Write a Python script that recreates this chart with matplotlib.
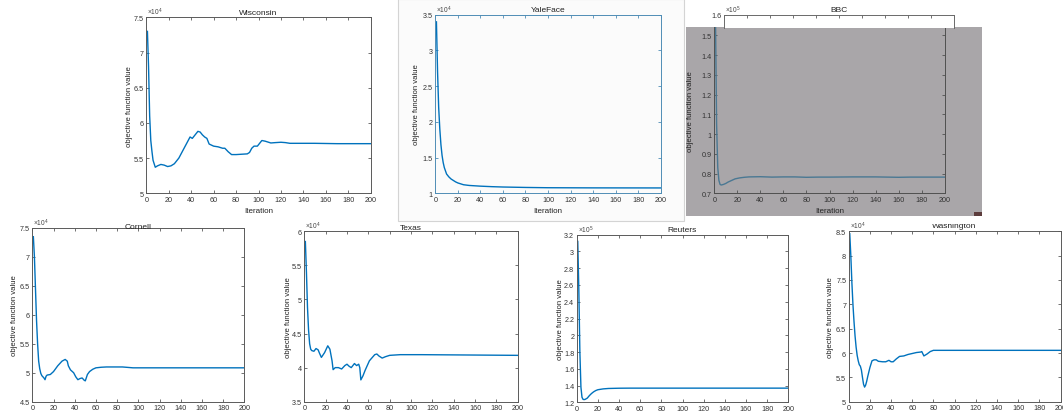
import numpy as np
import matplotlib
matplotlib.use('Agg')
import matplotlib.pyplot as plt
from matplotlib.patches import Rectangle
from matplotlib.ticker import FormatStrFormatter, MultipleLocator
from matplotlib.transforms import Bbox, TransformedBbox

#data (values in units of the axis exponent)
wis_x = [1, 2, 3, 4, 5, 6, 8, 10, 13, 16, 19, 22, 25, 29, 33, 37, 39, 41, 43, 46, 48, 50, 52, 54, 56, 60, 64, 68, 70, 73,
         76, 80, 85, 90, 92, 94, 96, 99, 101, 103, 106, 108, 111, 115, 120, 124, 128, 135, 150, 170, 200]
wis_y = [7.3, 6.8, 6.1, 5.75, 5.6, 5.47, 5.37, 5.39, 5.41, 5.40, 5.38, 5.39, 5.42, 5.5, 5.62, 5.74, 5.80, 5.78, 5.82, 5.88,
         5.87, 5.83, 5.80, 5.78, 5.70, 5.67, 5.66, 5.64, 5.64, 5.59, 5.55, 5.55, 5.555, 5.56, 5.58, 5.64, 5.67, 5.67, 5.71, 5.75,
         5.74, 5.73, 5.715, 5.72, 5.725, 5.72, 5.71, 5.71, 5.71, 5.705, 5.705]

yale_x = [1, 2, 3, 4, 5, 6, 7, 8, 10, 12, 14, 16, 18, 20, 25, 30, 40, 50, 60, 80, 100, 140, 200]
yale_y = [3.4, 2.7, 2.2, 1.9, 1.68, 1.53, 1.43, 1.36, 1.27, 1.23, 1.2, 1.18, 1.16, 1.145, 1.12, 1.11, 1.10, 1.093,
          1.088, 1.082, 1.078, 1.076, 1.075]

bbc_x = [1, 2, 3, 4, 5, 6, 8, 10, 12, 15, 18, 22, 26, 30, 40, 50, 60, 70, 80, 90, 100, 120, 140, 160, 170, 180, 200]
bbc_y = [1.6, 1.05, 0.83, 0.765, 0.745, 0.742, 0.745, 0.75, 0.757, 0.765, 0.773, 0.778, 0.781, 0.783, 0.784, 0.782,
         0.783, 0.783, 0.781, 0.782, 0.782, 0.783, 0.783, 0.781, 0.782, 0.782, 0.782]

cor_x = [1, 2, 3, 4, 5, 6, 7, 8, 9, 10, 11, 12, 13, 14, 17, 20, 24, 28, 31, 33, 34, 36, 39, 41, 43, 45, 47, 49, 50, 52,
         54, 57, 60, 65, 70, 85, 95, 120, 200]
cor_y = [7.35, 7.0, 6.45, 5.9, 5.5, 5.2, 5.07, 4.99, 4.95, 4.93, 4.91, 4.88, 4.94, 4.96, 4.97, 5.02, 5.12, 5.2, 5.23, 5.2,
         5.12, 5.05, 5.0, 4.93, 4.88, 4.9, 4.91, 4.87, 4.86, 4.97, 5.02, 5.06, 5.085, 5.095, 5.1, 5.1, 5.085, 5.085, 5.085]

tex_x = [1, 2, 3, 4, 5, 6, 7, 9, 11, 13, 14, 16, 19, 22, 24, 26, 27, 29, 32, 35, 38, 40, 42, 44, 46, 47, 49, 51, 52, 53,
         55, 57, 61, 66, 68, 70, 73, 76, 80, 90, 110, 200]
tex_y = [5.85, 5.4, 4.88, 4.55, 4.35, 4.27, 4.25, 4.24, 4.28, 4.26, 4.22, 4.15, 4.22, 4.32, 4.27, 4.1, 3.97, 4.0, 4.0, 3.98,
         4.03, 4.05, 4.02, 4.0, 4.04, 4.06, 4.03, 4.05, 4.0, 3.82, 3.88, 3.96, 4.1, 4.19, 4.2, 4.17, 4.14, 4.16, 4.18, 4.19,
         4.19, 4.18]

reu_x = [1, 2, 3, 4, 5, 6, 7, 8, 10, 12, 14, 16, 18, 20, 25, 30, 40, 50, 70, 100, 200]
reu_y = [3.12, 2.55, 1.8, 1.38, 1.26, 1.235, 1.232, 1.235, 1.25, 1.28, 1.305, 1.325, 1.34, 1.35, 1.36, 1.365, 1.368,
         1.369, 1.369, 1.369, 1.369]

was_x = [1, 2, 3, 4, 5, 6, 7, 8, 9, 10, 11, 12, 13, 14, 15, 16, 17, 18, 20, 22, 24, 26, 28, 32, 35, 38, 40, 42, 45, 48,
         52, 56, 60, 64, 68, 69, 71, 74, 77, 80, 100, 200]
was_y = [8.45, 8.0, 7.45, 7.0, 6.65, 6.35, 6.12, 5.95, 5.84, 5.76, 5.73, 5.65, 5.5, 5.36, 5.3, 5.34, 5.42, 5.52, 5.7, 5.84,
         5.86, 5.86, 5.83, 5.82, 5.82, 5.85, 5.82, 5.82, 5.88, 5.93, 5.94, 5.97, 5.99, 6.01, 6.02, 6.03, 5.94, 5.98, 6.03,
         6.055, 6.055, 6.055]

plt.rcParams['font.family'] = ['Liberation Sans', 'DejaVu Sans']
plt.rcParams['mathtext.fontset'] = 'custom'
plt.rcParams['mathtext.rm'] = 'Liberation Sans'

W, H = 1063, 414
fig = plt.figure(figsize=(W / 100, H / 100), dpi=100)
BBC_GRAY = '#a9a6a9'


def rect(l, t, r, b):
    #pixel box (from top left) -> figure fraction
    return [l / W, 1 - b / H, (r - l) / W, (b - t) / H]


#clip for the bottom row titles, which are cut by the collage
bottom_clip = TransformedBbox(Bbox([[0, 0], [1, 1 - 225 / H]]), fig.transFigure)


def panel(box, xs, ys, ylim, ystep, title, power, tpad, ylab_x, xlab=False,
          face='white', spine='#5a5a5a', line='#0072bd', clip=False):
    l, t, r, b = box
    ax = fig.add_axes(rect(l, t, r, b), facecolor=face)
    ax.plot(xs, ys, color=line, lw=1.0)
    ax.set_xlim(0, 200)
    ax.set_ylim(*ylim)
    ax.xaxis.set_major_locator(MultipleLocator(20))
    ax.yaxis.set_major_locator(MultipleLocator(ystep))
    ax.yaxis.set_major_formatter(FormatStrFormatter('%g'))
    ax.tick_params(direction='in', top=True, right=True, length=2.2, width=0.6,
                   labelsize=5.2, pad=1.8, color=spine, labelcolor='#333333')
    for s in ax.spines.values():
        s.set_color(spine)
        s.set_linewidth(0.7)
    if title:
        tt = ax.set_title(title, fontsize=6, pad=tpad, color='#222222')
        if clip:
            tt.set_clip_box(bottom_clip)
            tt.set_clip_on(True)
    if power:
        ax.text(0.004, 1.0, r'$\mathregular{\times10^{%d}}$' % power, transform=ax.transAxes,
                fontsize=4.8, color='#444444', ha='left', va='bottom')
    ax.set_ylabel('objective function value', fontsize=5.6, color='#222222')
    ax.yaxis.set_label_coords((ylab_x + 3.5 - l) / (r - l), 0.5)
    if xlab:
        ax.set_xlabel('Iteration', fontsize=5.8, color='#222222')
        ax.xaxis.set_label_coords(0.5, -(208 - b) / (b - t))
    return ax


#YaleFace screenshot frame
fig.patches.append(Rectangle((398 / W, 1 - 222 / H), (684 - 398) / W, 222 / H, transform=fig.transFigure,
                             facecolor='#fbfbfb', edgecolor='#d4d4d4', lw=0.8, zorder=-2))
#BBC gray screenshot
fig.patches.append(Rectangle((686 / W, 1 - 217 / H), (982 - 686) / W, (217 - 28) / H, transform=fig.transFigure,
                             facecolor=BBC_GRAY, edgecolor='none', zorder=-2))
fig.patches.append(Rectangle((974 / W, 1 - 217 / H), 8 / W, 4 / H, transform=fig.transFigure,
                             facecolor='#5c3c3c', edgecolor='none', zorder=-1))

#top row
panel((146.3, 18.3, 370.7, 194.3), wis_x, wis_y, (5, 7.5), 0.5, 'Wisconsin', 4, 2.6, 129.3, xlab=True)
panel((435.3, 15.7, 660.7, 194.3), yale_x, yale_y, (1, 3.5), 0.5, 'YaleFace', 4, 2.4, 416.7, xlab=True,
      spine='#4f8db5', face='#fbfbfb')
bbc = panel((714.3, 28, 944.7, 194.3), bbc_x, bbc_y, (0.7, 1.542), 0.1, None, None, 0, 690, xlab=True,
            face=BBC_GRAY, spine='#505050', line='#4a7893')
bbc.spines['top'].set_visible(False)
bbc.tick_params(top=False)

#white strip at the top of the BBC screenshot
strip = fig.add_axes(rect(724, 15.7, 954, 29), facecolor='white')
strip.set_xlim(0, 200)
strip.set_ylim(1.533, 1.6)
strip.xaxis.set_major_locator(MultipleLocator(20))
strip.set_yticks([1.6])
strip.yaxis.set_major_formatter(FormatStrFormatter('%g'))
strip.tick_params(direction='in', top=True, bottom=False, labelbottom=False, right=True,
                  length=2.2, width=0.6, labelsize=5.2, pad=1.8, color='#5a5a5a', labelcolor='#333333')
strip.spines['bottom'].set_visible(False)
for s in strip.spines.values():
    s.set_color('#6a6a6a')
    s.set_linewidth(0.7)
strip.set_title('BBC', fontsize=6, pad=2.4, color='#222222')
strip.text(0.004, 1.0, r'$\mathregular{\times10^{5}}$', transform=strip.transAxes,
           fontsize=4.8, color='#444444', ha='left', va='bottom')

#bottom row
panel((32.3, 229, 244.3, 402.7), cor_x, cor_y, (4.5, 7.5), 0.5, 'Cornell', 4, 0.3, 15, clip=True)
panel((304.3, 232.3, 517.7, 402.7), tex_x, tex_y, (3.5, 6), 0.5, 'Texas', 4, 1.6, 288.3, clip=True)
panel((576.7, 235.7, 788.3, 403.3), reu_x, reu_y, (1.2, 3.2), 0.2, 'Reuters', 5, 2.8, 560.7, clip=True)
panel((848.7, 232.3, 1060.5, 402.7), was_x, was_y, (5, 8.5), 0.5, 'Washington', 4, 2.8, 830.7, clip=True)

plt.savefig('out.png', dpi=100)
